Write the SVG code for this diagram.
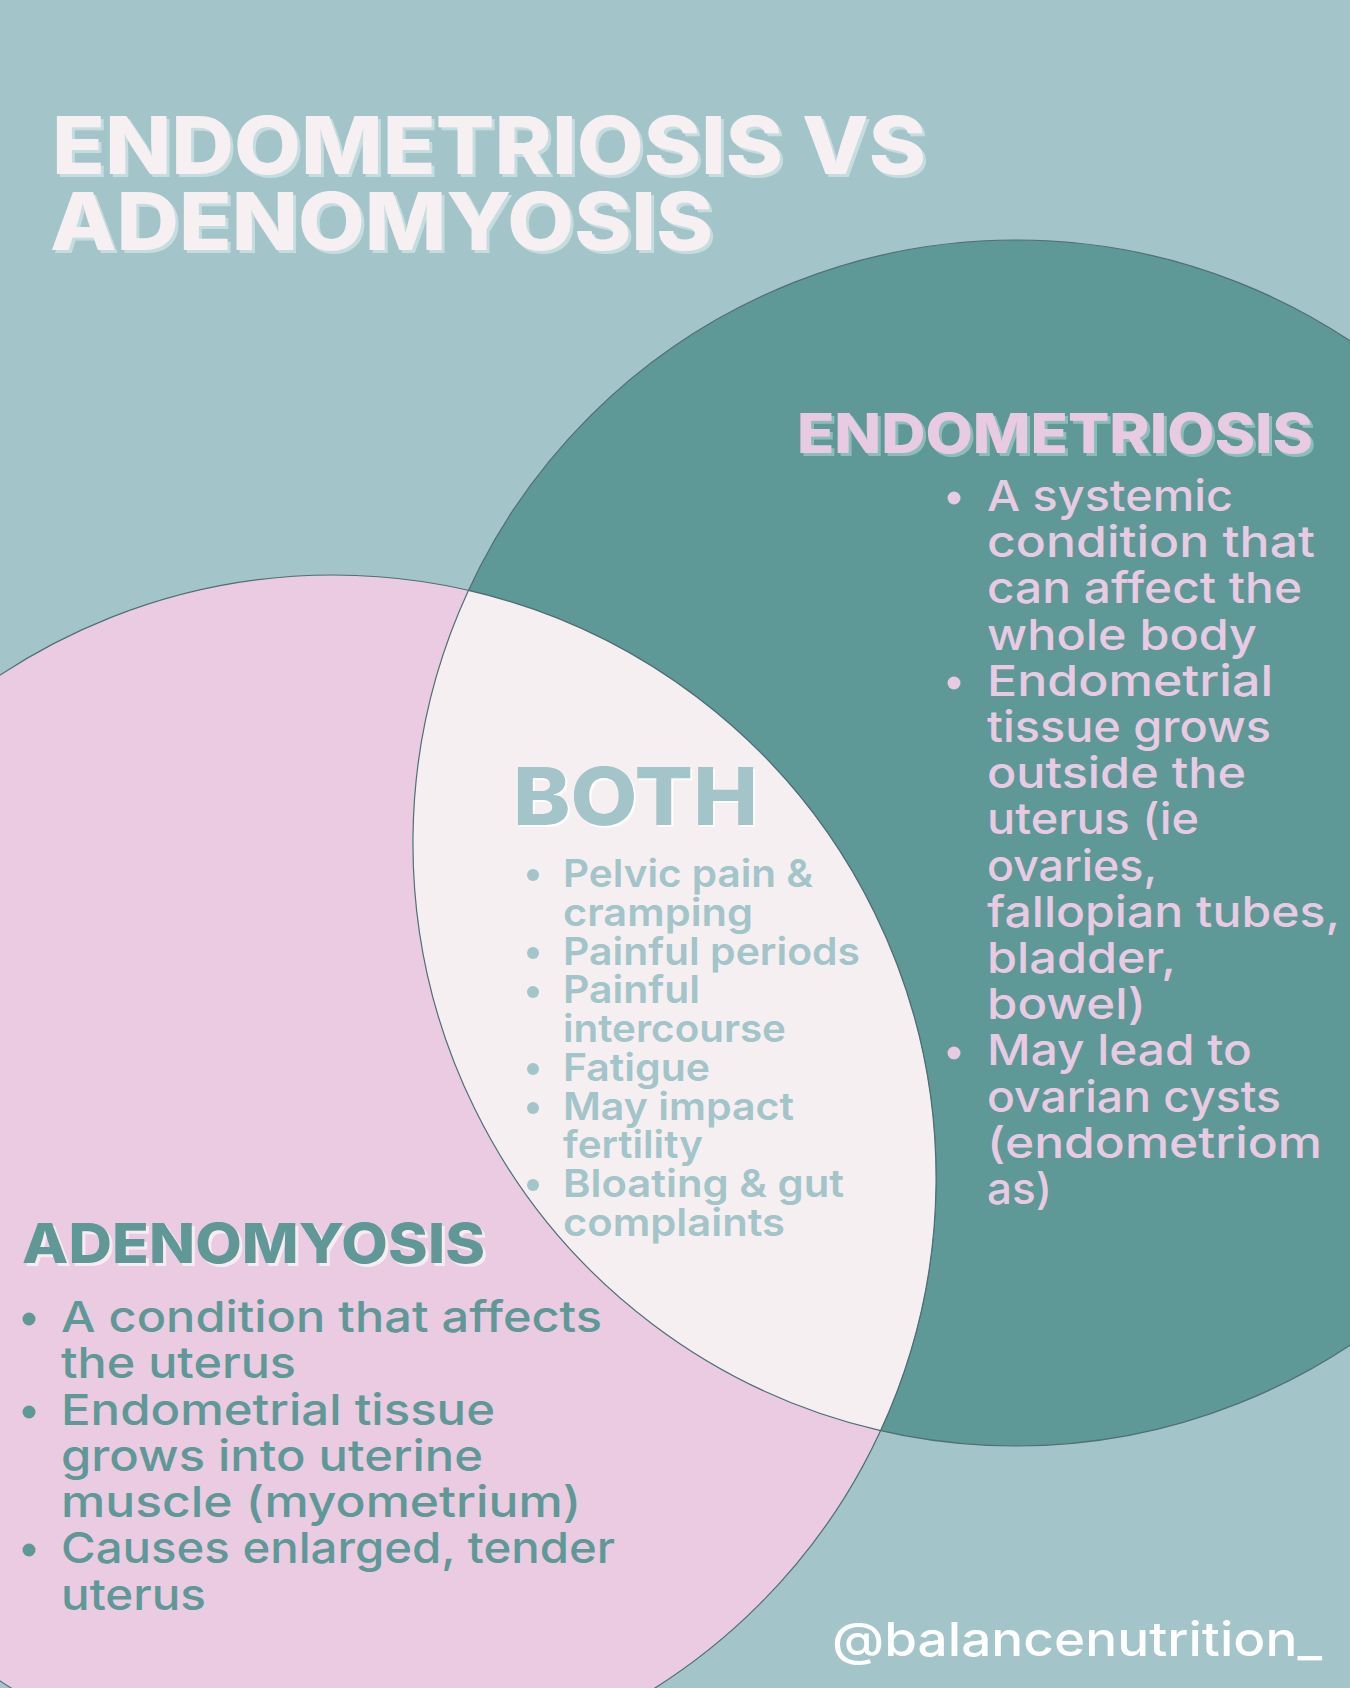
<svg xmlns="http://www.w3.org/2000/svg" width="1350" height="1688" viewBox="0 0 1350 1688">
  <defs>
    <style>
      .title { font-family: Inter, "Liberation Sans", sans-serif; font-weight: 800; font-size: 80px; fill: #f7f0f2; }
      .head { font-family: Inter, "Liberation Sans", sans-serif; font-weight: 800; font-size: 55px; }
      .both { font-family: Inter, "Liberation Sans", sans-serif; font-weight: 800; font-size: 80px; fill: #a3c4c9; }
      .li { font-family: Inter, "Liberation Sans", sans-serif; font-weight: 500; font-size: 43px; }
      .bli { font-family: Inter, "Liberation Sans", sans-serif; font-weight: 600; font-size: 38.5px; fill: #a3c4c9; }
      .handle { font-family: Inter, "Liberation Sans", sans-serif; font-weight: 500; font-size: 47px; fill: #ffffff; }
      .pinktxt { fill: #e8cbe3; }
      .tealtxt { fill: #5e9897; }
      .edge { stroke: #4e6f75; stroke-width: 1.2; }
    </style>
    <filter id="shTitle" x="-5%" y="-20%" width="110%" height="140%">
      <feDropShadow dx="3" dy="3" stdDeviation="0" flood-color="#c6dde0" flood-opacity="1"/>
    </filter>
    <filter id="shEndo" x="-5%" y="-20%" width="110%" height="140%">
      <feDropShadow dx="3" dy="3" stdDeviation="0" flood-color="#8cbdb9" flood-opacity="1"/>
    </filter>
    <filter id="shAdeno" x="-5%" y="-20%" width="110%" height="140%">
      <feDropShadow dx="3" dy="3" stdDeviation="0" flood-color="#f6edf3" flood-opacity="1"/>
    </filter>
    <filter id="shBoth" x="-5%" y="-20%" width="110%" height="140%">
      <feDropShadow dx="2" dy="2" stdDeviation="0" flood-color="#ffffff" flood-opacity="1"/>
    </filter>
  </defs>

  <rect id="background" x="0" y="0" width="1350" height="1688" fill="#a3c4c9"/>

  <g id="endometriosis">
    <circle cx="1016" cy="843" r="603" fill="#5e9897" class="edge"/>
  </g>
  <g id="adenomyosis">
    <circle cx="333" cy="1178" r="603" fill="#eacbe2" class="edge" stroke="#7f8093"/>
  </g>
  <g id="both">
    <path d="M 468.4 590.4 A 603 603 0 0 0 880.6 1430.6 A 603 603 0 0 0 468.4 590.4 Z" fill="#f6eff1" class="edge"/>
  </g>

  <g id="connectors"></g>

  <g id="title" filter="url(#shTitle)">
    <text class="title" x="52" y="174" textLength="874" lengthAdjust="spacingAndGlyphs">ENDOMETRIOSIS VS</text>
    <text class="title" x="50" y="250" textLength="663" lengthAdjust="spacingAndGlyphs">ADENOMYOSIS</text>
  </g>

  <g id="endometriosis-text">
    <text class="head pinktxt" x="797" y="453" textLength="516" lengthAdjust="spacingAndGlyphs" filter="url(#shEndo)">ENDOMETRIOSIS</text>
    <g class="pinktxt">
      <circle cx="954" cy="498" r="6.5"/>
      <circle cx="954" cy="683" r="6.5"/>
      <circle cx="954" cy="1053" r="6.5"/>
    </g>
    <text class="li pinktxt" x="987" y="511" textLength="246" lengthAdjust="spacingAndGlyphs">A systemic</text>
    <text class="li pinktxt" x="987" y="557" textLength="328" lengthAdjust="spacingAndGlyphs">condition that</text>
    <text class="li pinktxt" x="987" y="603" textLength="315" lengthAdjust="spacingAndGlyphs">can affect the</text>
    <text class="li pinktxt" x="987" y="650" textLength="270" lengthAdjust="spacingAndGlyphs">whole body</text>
    <text class="li pinktxt" x="987" y="696" textLength="286" lengthAdjust="spacingAndGlyphs">Endometrial</text>
    <text class="li pinktxt" x="987" y="742" textLength="284" lengthAdjust="spacingAndGlyphs">tissue grows</text>
    <text class="li pinktxt" x="987" y="788" textLength="259" lengthAdjust="spacingAndGlyphs">outside the</text>
    <text class="li pinktxt" x="987" y="834" textLength="212" lengthAdjust="spacingAndGlyphs">uterus (ie</text>
    <text class="li pinktxt" x="987" y="881" textLength="170" lengthAdjust="spacingAndGlyphs">ovaries,</text>
    <text class="li pinktxt" x="987" y="927" textLength="353" lengthAdjust="spacingAndGlyphs">fallopian tubes,</text>
    <text class="li pinktxt" x="987" y="973" textLength="189" lengthAdjust="spacingAndGlyphs">bladder,</text>
    <text class="li pinktxt" x="987" y="1019" textLength="159" lengthAdjust="spacingAndGlyphs">bowel)</text>
    <text class="li pinktxt" x="987" y="1065" textLength="265" lengthAdjust="spacingAndGlyphs">May lead to</text>
    <text class="li pinktxt" x="987" y="1112" textLength="294" lengthAdjust="spacingAndGlyphs">ovarian cysts</text>
    <text class="li pinktxt" x="987" y="1158" textLength="335" lengthAdjust="spacingAndGlyphs">(endometriom</text>
    <text class="li pinktxt" x="987" y="1204" textLength="65" lengthAdjust="spacingAndGlyphs">as)</text>
  </g>

  <g id="both-text">
    <text class="both" x="513" y="825" textLength="245" lengthAdjust="spacingAndGlyphs" filter="url(#shBoth)">BOTH</text>
    <g fill="#a3c4c9">
      <circle cx="533" cy="875" r="6"/>
      <circle cx="533" cy="953" r="6"/>
      <circle cx="533" cy="992" r="6"/>
      <circle cx="533" cy="1069" r="6"/>
      <circle cx="533" cy="1108" r="6"/>
      <circle cx="533" cy="1185" r="6"/>
    </g>
    <text class="bli" x="563" y="887" textLength="250" lengthAdjust="spacingAndGlyphs">Pelvic pain &amp;</text>
    <text class="bli" x="563" y="926" textLength="190" lengthAdjust="spacingAndGlyphs">cramping</text>
    <text class="bli" x="563" y="965" textLength="297" lengthAdjust="spacingAndGlyphs">Painful periods</text>
    <text class="bli" x="563" y="1003" textLength="137" lengthAdjust="spacingAndGlyphs">Painful</text>
    <text class="bli" x="563" y="1042" textLength="223" lengthAdjust="spacingAndGlyphs">intercourse</text>
    <text class="bli" x="563" y="1081" textLength="147" lengthAdjust="spacingAndGlyphs">Fatigue</text>
    <text class="bli" x="563" y="1120" textLength="231" lengthAdjust="spacingAndGlyphs">May impact</text>
    <text class="bli" x="563" y="1158" textLength="140" lengthAdjust="spacingAndGlyphs">fertility</text>
    <text class="bli" x="563" y="1197" textLength="281" lengthAdjust="spacingAndGlyphs">Bloating &amp; gut</text>
    <text class="bli" x="563" y="1236" textLength="222" lengthAdjust="spacingAndGlyphs">complaints</text>
  </g>

  <g id="adenomyosis-text">
    <text class="head tealtxt" x="22" y="1263" textLength="463" lengthAdjust="spacingAndGlyphs" filter="url(#shAdeno)">ADENOMYOSIS</text>
    <g class="tealtxt">
      <circle cx="29" cy="1319" r="6.5"/>
      <circle cx="29" cy="1412" r="6.5"/>
      <circle cx="29" cy="1550" r="6.5"/>
    </g>
    <text class="li tealtxt" x="61" y="1332" textLength="541" lengthAdjust="spacingAndGlyphs">A condition that affects</text>
    <text class="li tealtxt" x="61" y="1378" textLength="235" lengthAdjust="spacingAndGlyphs">the uterus</text>
    <text class="li tealtxt" x="61" y="1425" textLength="434" lengthAdjust="spacingAndGlyphs">Endometrial tissue</text>
    <text class="li tealtxt" x="61" y="1471" textLength="422" lengthAdjust="spacingAndGlyphs">grows into uterine</text>
    <text class="li tealtxt" x="61" y="1517" textLength="520" lengthAdjust="spacingAndGlyphs">muscle (myometrium)</text>
    <text class="li tealtxt" x="61" y="1563" textLength="554" lengthAdjust="spacingAndGlyphs">Causes enlarged, tender</text>
    <text class="li tealtxt" x="61" y="1610" textLength="145" lengthAdjust="spacingAndGlyphs">uterus</text>
  </g>

  <g id="handle">
    <text class="handle" x="832" y="1656" textLength="490" lengthAdjust="spacingAndGlyphs">@balancenutrition_</text>
  </g>
</svg>
